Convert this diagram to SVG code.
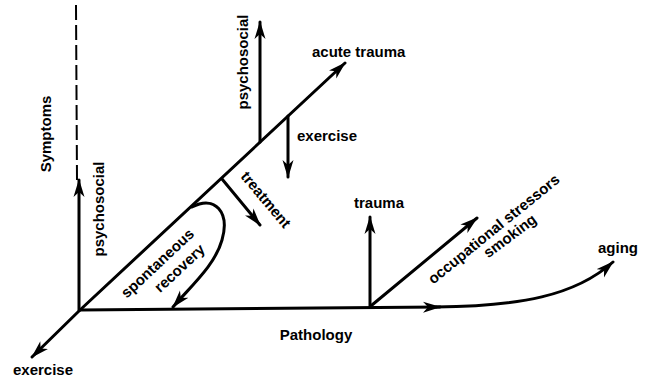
<svg xmlns="http://www.w3.org/2000/svg" width="652" height="381" viewBox="0 0 652 381">
<defs>
<style>
.l{fill:none;stroke:#000;stroke-width:3;stroke-linecap:round}
.a{marker-end:url(#ah)}
text{font-family:"Liberation Sans",Arial,sans-serif;font-weight:bold;font-size:15px;fill:#000}
</style>
<marker id="ah" markerUnits="userSpaceOnUse" markerWidth="20" markerHeight="12" refX="17" refY="5.5" orient="auto" viewBox="0 0 20 11">
<path d="M0,0 L18,5.5 L0,11 L5,5.5 z" fill="#000"/>
</marker>
</defs>
<rect width="652" height="381" fill="#fff"/>
<g id="connectors">
<line x1="76" y1="5" x2="77" y2="180" stroke="#000" stroke-width="2" stroke-dasharray="15,5"/>
<path class="l a" d="M79,310 L79,180"/>
<path class="l a" d="M80,310 L345,63"/>
<path class="l a" d="M80,310 L32,357"/>
<path class="l a" d="M80,310 L440,307"/>
<path class="l a" d="M436,307 C520,306 575,296 613,262"/>
<path class="l a" d="M260,142 L260,22"/>
<path class="l a" d="M288,116 L288,177"/>
<path class="l a" d="M222,179 L260,225"/>
<path class="l a" d="M192,207 C215,195 230,212 222,240 C215,265 192,285 173,307"/>
<path class="l a" d="M370,307 L370,217"/>
<path class="l a" d="M372,305 L477,218"/>
</g>
<g id="labels">
<text transform="translate(51,134) rotate(-90)" text-anchor="middle">Symptoms</text>
<text transform="translate(104,209) rotate(-90)" text-anchor="middle">psychosocial</text>
<text transform="translate(248,62) rotate(-90)" text-anchor="middle">psychosocial</text>
<text x="312" y="57">acute trauma</text>
<text x="297" y="141">exercise</text>
<text transform="translate(262,203) rotate(50)" text-anchor="middle">treatment</text>
<text transform="translate(161,267) rotate(-43)" text-anchor="middle">spontaneous</text>
<text transform="translate(183,272) rotate(-43)" text-anchor="middle">recovery</text>
<text x="316" y="340" text-anchor="middle">Pathology</text>
<text x="13" y="375">exercise</text>
<text x="354" y="208">trauma</text>
<text transform="translate(497,233) rotate(-39)" text-anchor="middle">occupational stressors</text>
<text transform="translate(513,240) rotate(-37)" text-anchor="middle">smoking</text>
<text x="598" y="253">aging</text>
</g>
</svg>
